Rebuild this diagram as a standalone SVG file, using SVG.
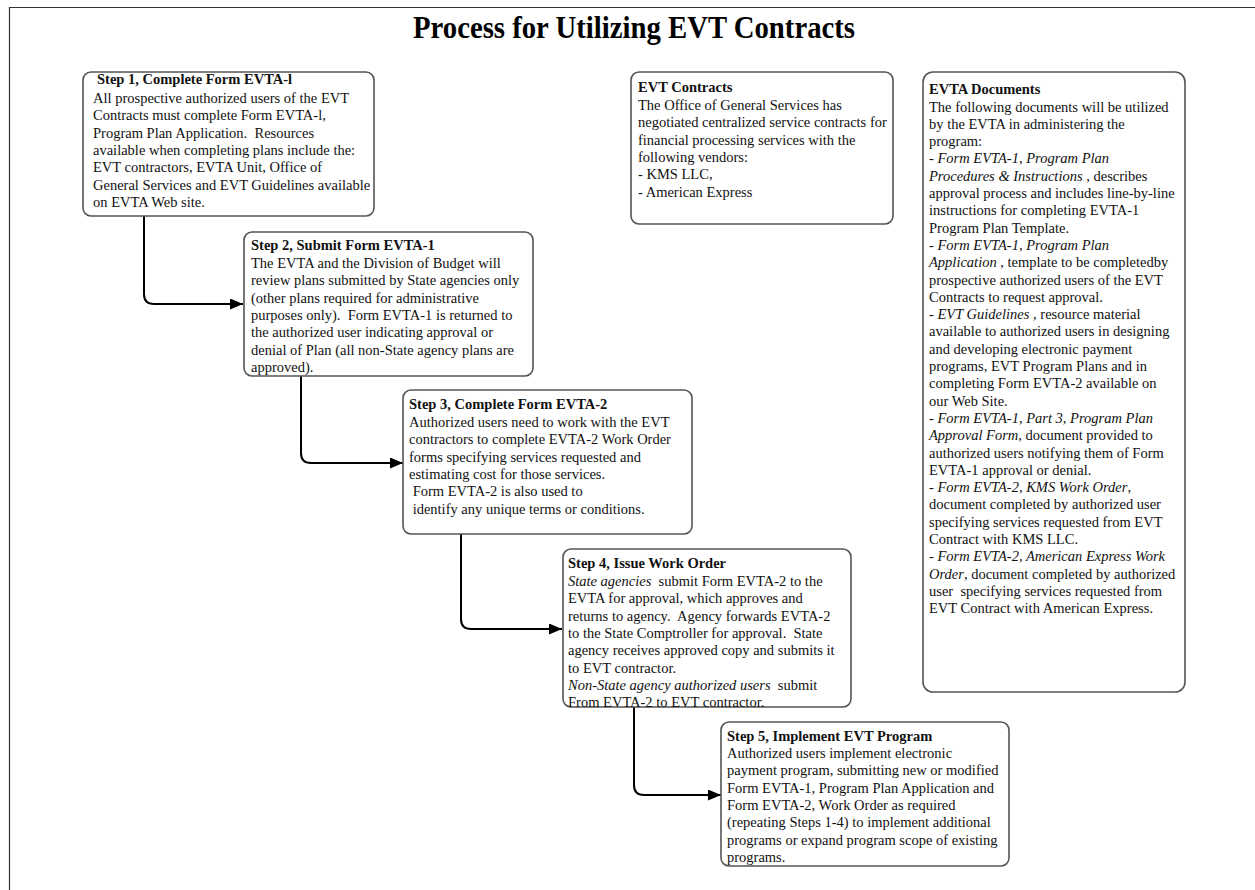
<svg xmlns="http://www.w3.org/2000/svg" width="1255" height="890" viewBox="0 0 1255 890">
<defs>
<marker id="arr" viewBox="0 0 13 11" refX="13" refY="5.5" markerWidth="13" markerHeight="11" markerUnits="userSpaceOnUse" orient="auto">
<path d="M0,0 L13,5.5 L0,11 z" fill="#000"/>
</marker>
<style>
text{font-family:"Liberation Serif","Times New Roman",serif;font-size:14.5px;fill:#111;white-space:pre}
.h{font-weight:bold}
.i{font-style:italic}
.box{fill:#fff;stroke:#555;stroke-width:1.6}
.conn{fill:none;stroke:#000;stroke-width:2}
.title{font-size:31px;font-weight:bold;fill:#000}
</style>
</defs>
<rect width="1255" height="890" fill="#fff"/>
<path d="M9.5,890 V7.5 H1255" fill="none" stroke="#333" stroke-width="1.2"/>
<text class="title" x="634" y="38" text-anchor="middle" textLength="442" lengthAdjust="spacingAndGlyphs">Process for Utilizing EVT Contracts</text>

<g id="connectors">
<path class="conn" d="M144,216 V294 Q144,304 154,304 H243" marker-end="url(#arr)"/>
<path class="conn" d="M301,376 V453 Q301,463 311,463 H403" marker-end="url(#arr)"/>
<path class="conn" d="M461,534 V619 Q461,629 471,629 H562" marker-end="url(#arr)"/>
<path class="conn" d="M634,707 V785 Q634,795 644,795 H721" marker-end="url(#arr)"/>
</g>

<g id="step1">
<rect class="box" x="83" y="72" width="291" height="144" rx="8"/>
<text class="h" x="97" y="84">Step 1, Complete Form EVTA-l</text>
<text x="93" y="103">All prospective authorized users of the EVT</text>
<text x="93" y="120.3">Contracts must complete Form EVTA-l,</text>
<text x="93" y="137.6">Program Plan Application.  Resources</text>
<text x="93" y="154.9">available when completing plans include the:</text>
<text x="93" y="172.2">EVT contractors, EVTA Unit, Office of</text>
<text x="93" y="189.5">General Services and EVT Guidelines available</text>
<text x="93" y="206.8">on EVTA Web site.</text>
</g>

<g id="step2">
<rect class="box" x="244" y="232" width="289" height="144" rx="8"/>
<text class="h" x="251" y="250">Step 2, Submit Form EVTA-1</text>
<text x="251" y="268">The EVTA and the Division of Budget will</text>
<text x="251" y="285.3">review plans submitted by State agencies only</text>
<text x="251" y="302.6">(other plans required for administrative</text>
<text x="251" y="319.9">purposes only).  Form EVTA-1 is returned to</text>
<text x="251" y="337.2">the authorized user indicating approval or</text>
<text x="251" y="354.5">denial of Plan (all non-State agency plans are</text>
<text x="251" y="371.8">approved).</text>
</g>

<g id="step3">
<rect class="box" x="403" y="390" width="289" height="144" rx="8"/>
<text class="h" x="409" y="409">Step 3, Complete Form EVTA-2</text>
<text x="409" y="427">Authorized users need to work with the EVT</text>
<text x="409" y="444.3">contractors to complete EVTA-2 Work Order</text>
<text x="409" y="461.6">forms specifying services requested and</text>
<text x="409" y="478.9">estimating cost for those services.</text>
<text x="409" y="496.2"> Form EVTA-2 is also used to</text>
<text x="409" y="513.5"> identify any unique terms or conditions.</text>
</g>

<g id="step4">
<rect class="box" x="563" y="549" width="288" height="158" rx="8"/>
<text class="h" x="568" y="568">Step 4, Issue Work Order</text>
<text x="568" y="586"><tspan class="i">State agencies</tspan>  submit Form EVTA-2 to the</text>
<text x="568" y="603.3">EVTA for approval, which approves and</text>
<text x="568" y="620.6">returns to agency.  Agency forwards EVTA-2</text>
<text x="568" y="637.9">to the State Comptroller for approval.  State</text>
<text x="568" y="655.2">agency receives approved copy and submits it</text>
<text x="568" y="672.5">to EVT contractor.</text>
<text x="568" y="689.8"><tspan class="i">Non-State agency authorized users</tspan>  submit</text>
<text x="568" y="707.1">From EVTA-2 to EVT contractor.</text>
</g>

<g id="step5">
<rect class="box" x="721" y="722" width="288" height="144" rx="8"/>
<text class="h" x="727" y="741">Step 5, Implement EVT Program</text>
<text x="727" y="758">Authorized users implement electronic</text>
<text x="727" y="775.3">payment program, submitting new or modified</text>
<text x="727" y="792.6">Form EVTA-1, Program Plan Application and</text>
<text x="727" y="809.9">Form EVTA-2, Work Order as required</text>
<text x="727" y="827.2">(repeating Steps 1-4) to implement additional</text>
<text x="727" y="844.5">programs or expand program scope of existing</text>
<text x="727" y="861.8">programs.</text>
</g>

<g id="evt-contracts">
<rect class="box" x="631" y="72" width="262" height="152" rx="8"/>
<text class="h" x="638" y="92">EVT Contracts</text>
<text x="638" y="110">The Office of General Services has</text>
<text x="638" y="127.3">negotiated centralized service contracts for</text>
<text x="638" y="144.6">financial processing services with the</text>
<text x="638" y="161.9">following vendors:</text>
<text x="638" y="179.2">- KMS LLC,</text>
<text x="638" y="196.5">- American Express</text>
</g>

<g id="evta-documents">
<rect class="box" x="923" y="72" width="262" height="620" rx="10"/>
<text class="h" x="929" y="94">EVTA Documents</text>
<text x="929" y="111.5">The following documents will be utilized</text>
<text x="929" y="128.8">by the EVTA in administering the</text>
<text x="929" y="146.1">program:</text>
<text x="929" y="163.4" class="i">- Form EVTA-1, Program Plan</text>
<text x="929" y="180.7"><tspan class="i">Procedures &amp; Instructions</tspan> , describes</text>
<text x="929" y="198">approval process and includes line-by-line</text>
<text x="929" y="215.3">instructions for completing EVTA-1</text>
<text x="929" y="232.6">Program Plan Template.</text>
<text x="929" y="249.9" class="i">- Form EVTA-1, Program Plan</text>
<text x="929" y="267.2"><tspan class="i">Application</tspan> , template to be completedby</text>
<text x="929" y="284.5">prospective authorized users of the EVT</text>
<text x="929" y="301.8">Contracts to request approval.</text>
<text x="929" y="319.1"><tspan class="i">- EVT Guidelines</tspan> , resource material</text>
<text x="929" y="336.4">available to authorized users in designing</text>
<text x="929" y="353.7">and developing electronic payment</text>
<text x="929" y="371">programs, EVT Program Plans and in</text>
<text x="929" y="388.3">completing Form EVTA-2 available on</text>
<text x="929" y="405.6">our Web Site.</text>
<text x="929" y="422.9" class="i">- Form EVTA-1, Part 3, Program Plan</text>
<text x="929" y="440.2"><tspan class="i">Approval Form</tspan>, document provided to</text>
<text x="929" y="457.5">authorized users notifying them of Form</text>
<text x="929" y="474.8">EVTA-1 approval or denial.</text>
<text x="929" y="492.1"><tspan class="i">- Form EVTA-2, KMS Work Order</tspan>,</text>
<text x="929" y="509.4">document completed by authorized user</text>
<text x="929" y="526.7">specifying services requested from EVT</text>
<text x="929" y="544">Contract with KMS LLC.</text>
<text x="929" y="561.3" class="i">- Form EVTA-2, American Express Work</text>
<text x="929" y="578.6"><tspan class="i">Order</tspan>, document completed by authorized</text>
<text x="929" y="595.9">user  specifying services requested from</text>
<text x="929" y="613.2">EVT Contract with American Express.</text>
</g>
</svg>
